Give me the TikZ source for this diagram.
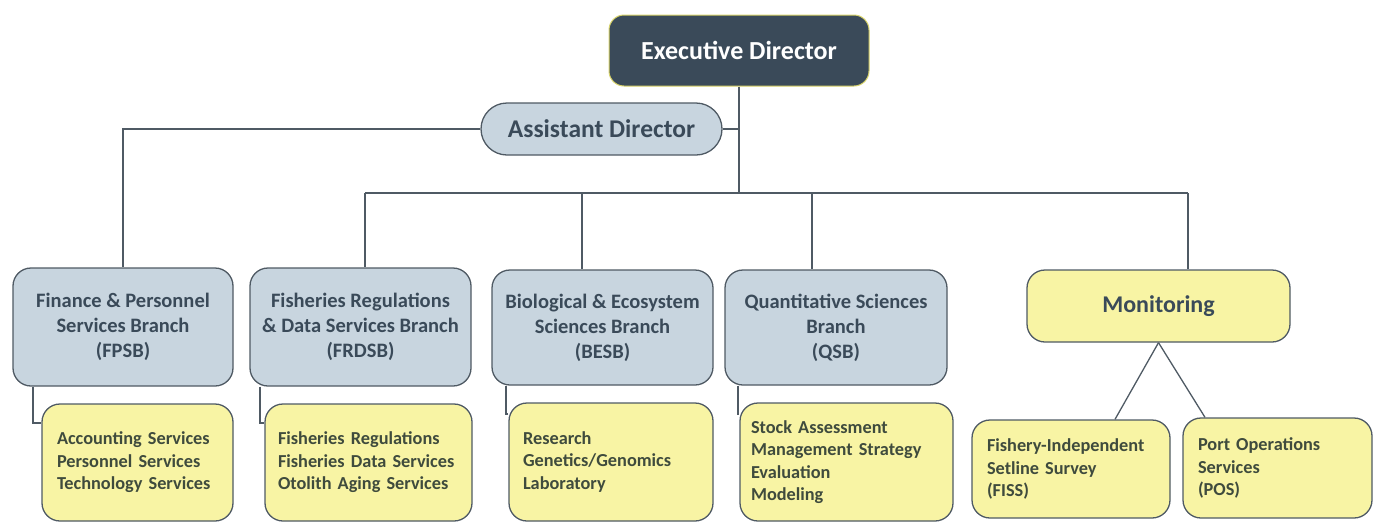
\documentclass[tikz,border=0pt]{standalone}
\usepackage{fontspec}
\setmainfont{Carlito}
\definecolor{dark}{HTML}{3A4A59}
\definecolor{lineC}{HTML}{4F5A64}
\definecolor{bluefill}{HTML}{C8D5DF}
\definecolor{yellowfill}{HTML}{F8F4A4}
\definecolor{textblue}{HTML}{3A4A59}
\definecolor{textgreen}{HTML}{3F4B3D}
\definecolor{edborder}{HTML}{D9D46A}
\begin{document}
\begin{tikzpicture}[x=1pt,y=-1pt,
  box/.style={draw=lineC, line width=1.3pt, rounded corners=18pt, inner sep=0pt},
  branch/.style={box, fill=bluefill, text=textblue, align=center, font=\fontsize{20.5}{25}\selectfont\bfseries},
  unit/.style={box, fill=yellowfill, text=textgreen, align=left, font=\fontsize{18.3}{22.5}\selectfont\bfseries},
  conn/.style={draw=lineC, line width=1.3pt}]
\useasboundingbox (0,0) rectangle (1374,523);
% top
\node[box, fill=dark, draw=edborder, line width=1pt, rounded corners=15pt, text=white,
  font=\fontsize{26}{30}\selectfont\bfseries, minimum width=260pt, minimum height=71pt] (ED) at (739,50.5) {Executive Director};
\node[box, fill=bluefill, rounded corners=26pt, text=textblue,
  font=\fontsize{25.5}{30}\selectfont\bfseries, minimum width=241pt, minimum height=52pt] (AD) at (601.5,129) {Assistant Director};
% branches
\node[branch, minimum width=220pt, minimum height=118pt] (FPSB) at (123,327) {Finance \& Personnel\\Services Branch\\(FPSB)};
\node[branch, minimum width=221pt, minimum height=118pt] (FRDSB) at (360.5,327) {Fisheries Regulations\\\& Data Services Branch\\(FRDSB)};
\node[branch, minimum width=221pt, minimum height=115pt] (BESB) at (602.5,327.5) {Biological \& Ecosystem\\Sciences Branch\\(BESB)};
\node[branch, minimum width=222pt, minimum height=115pt] (QSB) at (836,327.5) {Quantitative Sciences\\Branch\\(QSB)};
\node[box, fill=yellowfill, text=textblue, font=\fontsize{24}{28}\selectfont\bfseries,
  minimum width=263pt, minimum height=72pt] (MON) at (1158.5,306) {Monitoring};
% units
\node[unit, text width=161pt, minimum width=191pt, minimum height=117pt] (U1) at (137.5,462.5) {Accounting Services\\Personnel Services\\Technology Services};
\node[unit, text width=181pt, minimum width=207pt, minimum height=117pt] (U2) at (368.5,462.5) {Fisheries Regulations\\Fisheries Data Services\\Otolith Aging Services};
\node[unit, text width=176pt, minimum width=204pt, minimum height=118pt] (U3) at (611,462) {Research\\Genetics/Genomics\\Laboratory};
\node[unit, text width=191pt, minimum width=213pt, minimum height=118pt] (U4) at (846.5,462) {Stock Assessment\\Management Strategy\\Evaluation\\Modeling};
\node[unit, text width=168pt, minimum width=198pt, minimum height=98pt] (FISS) at (1071,469) {Fishery-Independent\\Setline Survey\\(FISS)\\[5pt]};
\node[unit, text width=159pt, minimum width=189pt, minimum height=100pt] (POS) at (1277.5,468) {Port Operations\\Services\\(POS)\\[5pt]};
% connectors
\coordinate (J) at (739,193);
\coordinate (B1) at (365,193);
\coordinate (B2) at (582,193);
\coordinate (B3) at (812,193);
\coordinate (B4) at (1188,193);
\draw[conn] (ED.south) -- (J);
\draw[conn] (AD.east) -- (AD.east -| ED.south);
\draw[conn] (AD.west) -| (FPSB.north);
\draw[conn] (B1) -- (B4);
\draw[conn] (B1) -- (B1 |- FRDSB.north);
\draw[conn] (B2) -- (B2 |- BESB.north);
\draw[conn] (B3) -- (B3 |- QSB.north);
\draw[conn] (B4) -- (B4 |- MON.north);
\coordinate (E1) at (33,423);
\coordinate (E2) at (260,423);
\coordinate (E3) at (506,414);
\coordinate (E4) at (738,414);
\draw[conn] (E1 |- FPSB.south) -- (E1) -- (E1 -| U1.west);
\draw[conn] (E2 |- FRDSB.south) -- (E2) -- (E2 -| U2.west);
\draw[conn] (E3 |- BESB.south) -- (E3) -- (E3 -| U3.west);
\draw[conn] (E4 |- QSB.south) -- (E4) -- (E4 -| U4.west);
\draw[conn] (MON.south) -- ([xshift=44pt]FISS.north);
\draw[conn] (MON.south) -- ([xshift=-72.5pt]POS.north);
\end{tikzpicture}
\end{document}
